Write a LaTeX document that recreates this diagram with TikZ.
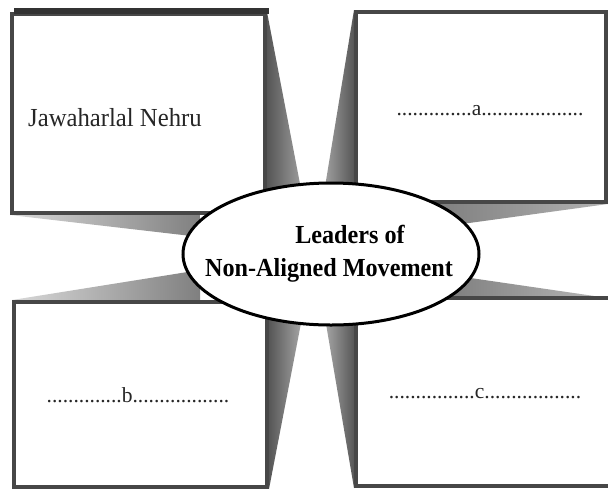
\documentclass[tikz,border=0pt]{standalone}
\usepackage{fontspec}
\setmainfont{Liberation Serif}
\usetikzlibrary{backgrounds,shapes.geometric}
\begin{document}
\begin{tikzpicture}[x=1pt,y=-1pt,
  boxnode/.style={draw=black!72,line width=4pt,fill=white,inner sep=0pt,rectangle},
  centre/.style={draw=black,line width=3pt,fill=white,ellipse,inner sep=0pt,minimum width=296pt,minimum height=142pt},
  boxtext/.style={text=black!85,font=\fontsize{21.5}{26}\selectfont,inner sep=0pt},
  boldtext/.style={text=black,font=\fontsize{26}{30}\selectfont\bfseries,inner sep=0pt},
  wedge/.style={draw=none}
]
\useasboundingbox (0,0) rectangle (608,491);
\clip (0,0) rectangle (608,491);
% boxes
\node[boxnode,minimum width=253pt,minimum height=199pt] (tl) at (138.5,113.5) {};
\node[boxnode,minimum width=250pt,minimum height=190pt] (tr) at (481,107) {};
\node[boxnode,minimum width=253pt,minimum height=185pt] (bl) at (140.5,394.5) {};
\node[boxnode,minimum width=256pt,minimum height=188pt] (br) at (484,392) {};
% thicker top edge of the first box
\draw[black!80,line width=6pt] ([xshift=4pt,yshift=1pt]tl.north west) -- ([xshift=2pt,yshift=1pt]tl.north east);
% wedges behind boxes
\begin{scope}[on background layer]
  \shade[wedge,left color=black!68,right color=black!35] (tl.north east) -- (306,215) -- (265,215) -- cycle;
  \shade[wedge,left color=black!15,right color=black!50] (tl.south west) -- (200,237) -- (200,213) -- cycle;
  \shade[wedge,left color=black!35,right color=black!68] (tr.north west) -- (322,205) -- (356,205) -- cycle;
  \shade[wedge,left color=black!50,right color=black!30] (tr.south east) -- (440,227) -- (440,202) -- cycle;
  \shade[wedge,left color=black!15,right color=black!50] (bl.north west) -- (200,270) -- (200,302) -- cycle;
  \shade[wedge,left color=black!68,right color=black!35] (bl.south east) -- (302,318) -- (267,318) -- cycle;
  \shade[wedge,left color=black!50,right color=black!28] (608,298) -- (450,275) -- (450,298) -- cycle;
  \shade[wedge,left color=black!35,right color=black!68] (br.south west) -- (325,318) -- (356,318) -- cycle;
\end{scope}
% centre ellipse
\node[centre] (hub) at (331,254) {};
\node[boldtext,anchor=base] (l1) at (350,243) {\scalebox{0.93}[1]{Leaders of}};
\node[boldtext,anchor=base] (l2) at (329,276) {\scalebox{0.93}[1]{Non-Aligned Movement}};
% box texts
\node[boxtext,anchor=base west,font=\fontsize{26}{30}\selectfont] (t1) at (28,126) {\scalebox{0.95}[1]{Jawaharlal Nehru}};
\node[boxtext,anchor=base] (t2) at (490,115) {..............a...................};
\node[boxtext,anchor=base] (t3) at (138,402) {..............b..................};
\node[boxtext,anchor=base] (t4) at (485,398) {................c..................};
\end{tikzpicture}
\end{document}
